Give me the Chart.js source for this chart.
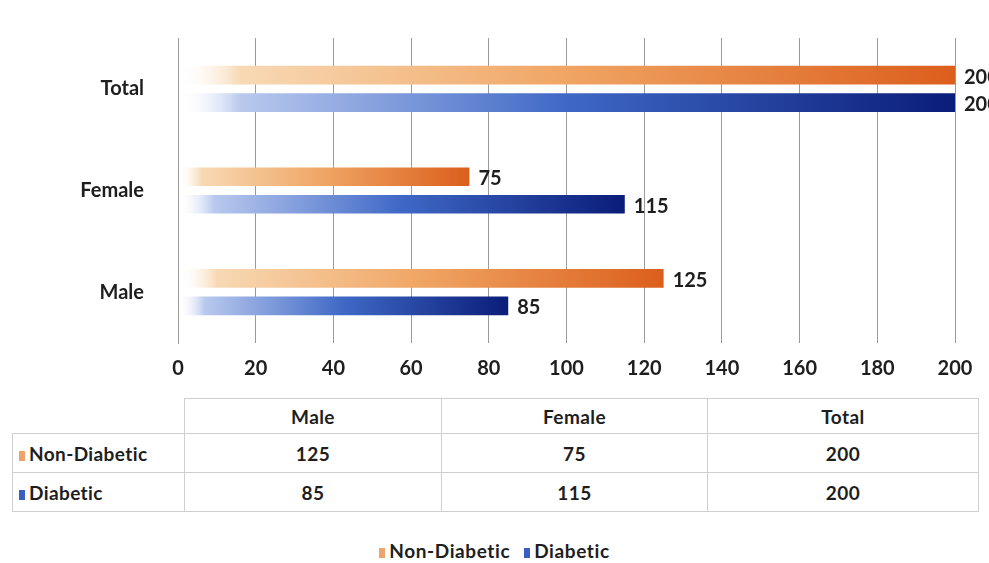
<!DOCTYPE html>
<html>
<head>
<meta charset="utf-8">
<script src="https://cdn.jsdelivr.net/npm/chart.js@4.4.1/dist/chart.umd.min.js"></script>
<style>
  body { margin: 0; background: #fff; font-family: Lato, "Open Sans", sans-serif; }
  #wrap { position: relative; width: 989px; height: 563px; overflow: hidden; }
  #chart-box { position: absolute; left: 0; top: 0; width: 989px; height: 392px; }
  table { position: absolute; left: 12px; top: 398px; border-collapse: collapse; font-weight: bold; font-size: 19px; color: #1e1e1e; letter-spacing: 0.4px; }
  td { border: 1px solid #cfcfcf; text-align: center; height: 38px; padding: 0; }
  tr.top td { height: 34px; }
  td.head { text-align: left; padding-left: 6px; width: 165px; }
  td.blank { border: none; }
  .key { display: inline-block; width: 6px; height: 10px; margin-right: 4px; }
  #legend { position: absolute; top: 539px; left: 0; width: 989px; text-align: center; font-weight: bold; font-size: 19px; color: #1e1e1e; letter-spacing: 0.6px; }
  #legend span.item { margin: 0 7px; }
</style>
</head>
<body>
<div id="wrap">
  <div id="chart-box"><canvas id="graph-canvas"></canvas></div>
  <table id="data-table"></table>
  <div id="legend"></div>
</div>
<script>
// chart data
var categories = ["Male", "Female", "Total"];
var nonDiabetic = [125, 75, 200];
var diabetic = [85, 115, 200];
var xTicks = [0, 20, 40, 60, 80, 100, 120, 140, 160, 180, 200];

var orangeStops = ["rgba(255,255,255,0)", "#f8d9b4", "#f0a564", "#dc5e1c"];
var blueStops = ["rgba(255,255,255,0)", "#b9c9ee", "#3f68c6", "#0a1d78"];

//build a left-to-right gradient over the length of one bar
function barFill(c, stops) {
  var chart = c.chart;
  if (!chart.chartArea || c.raw === undefined) return stops[2];
  var x = chart.scales.x;
  var x0 = x.getPixelForValue(0);
  var x1 = x.getPixelForValue(c.raw);
  var g = chart.ctx.createLinearGradient(x0, 0, x1, 0);
  g.addColorStop(0, stops[0]);
  g.addColorStop(0.08, stops[1]);
  g.addColorStop(0.5, stops[2]);
  g.addColorStop(1, stops[3]);
  return g;
}

//writes the value at the end of each bar
var valueLabels = {
  id: "valueLabels",
  afterDatasetsDraw(chart) {
    var ctx = chart.ctx;
    ctx.save();
    ctx.font = "bold 20px Lato";
    ctx.fillStyle = "#1e1e1e";
    ctx.textBaseline = "middle";
    chart.data.datasets.forEach(function(ds, i) {
      chart.getDatasetMeta(i).data.forEach(function(bar, j) {
        ctx.fillText(ds.data[j], bar.x + 9, bar.y + 2);
      });
    });
    ctx.restore();
  }
};

var chart = new Chart(document.getElementById("graph-canvas"), {
  type: "bar",
  data: {
    labels: categories,
    datasets: [
      { label: "Non-Diabetic", data: nonDiabetic, backgroundColor: c => barFill(c, orangeStops) },
      { label: "Diabetic", data: diabetic, backgroundColor: c => barFill(c, blueStops) }
    ]
  },
  options: {
    indexAxis: "y",
    responsive: true,
    maintainAspectRatio: false,
    animation: false,
    categoryPercentage: 0.54,
    barPercentage: 0.68,
    layout: { padding: { top: 34, right: 34, left: 0, bottom: 0 } },
    plugins: { legend: { display: false }, tooltip: { enabled: false } },
    scales: {
      x: {
        min: 0, max: 200,
        afterBuildTicks: s => { s.ticks = xTicks.map(v => ({ value: v })); },
        afterFit: s => { s.height = 49; },
        grid: { color: "#9a9a9a", lineWidth: 1, drawTicks: false },
        border: { display: false },
        ticks: { color: "#1e1e1e", padding: 14, font: { family: "Lato", size: 20, weight: "bold" } }
      },
      y: {
        reverse: true,
        afterFit: s => { s.width = 178; },
        grid: { display: false },
        border: { color: "#9a9a9a" },
        ticks: { color: "#1e1e1e", padding: 26, font: { family: "Lato", size: 20, weight: "bold" } }
      }
    }
  },
  plugins: [valueLabels]
});

//data table under the chart
var table = document.getElementById("data-table");
var widths = [256, 265, 270];
var head = "<tr class='top'><td class='blank'></td>";
for (var i = 0; i < categories.length; i++) {
  head += "<td style='width:" + widths[i] + "px'>" + categories[i] + "</td>";
}
table.innerHTML = head + "</tr>";
[["Non-Diabetic", nonDiabetic, "#eda36b"], ["Diabetic", diabetic, "#3a5fc0"]].forEach(function(r) {
  var row = "<tr><td class='head'><span class='key' style='background:" + r[2] + "'></span>" + r[0] + "</td>";
  r[1].forEach(function(v) { row += "<td>" + v + "</td>"; });
  table.innerHTML += row + "</tr>";
});

document.getElementById("legend").innerHTML =
  "<span class='item'><span class='key' style='background:#eda36b'></span>Non-Diabetic</span>" +
  "<span class='item'><span class='key' style='background:#3a5fc0'></span>Diabetic</span>";
</script>
</body>
</html>
